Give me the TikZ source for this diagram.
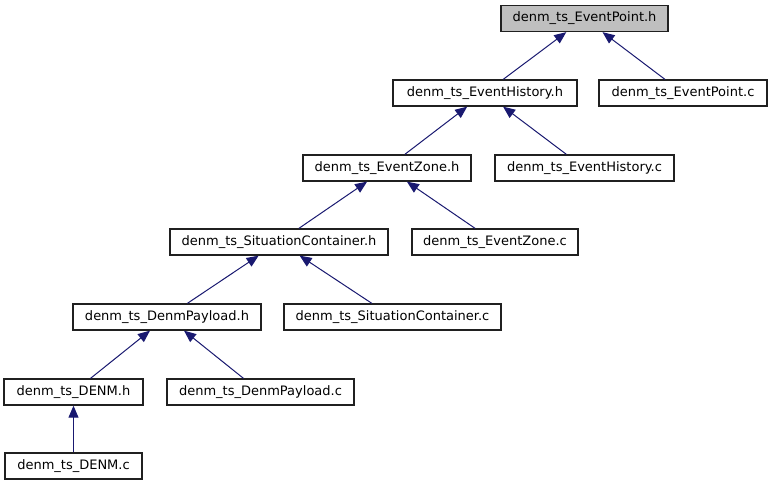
\documentclass[tikz,border=0pt]{standalone}
\usepackage{fontspec}
\setmainfont{DejaVu Sans}
\usetikzlibrary{arrows.meta}
\definecolor{edgeblue}{HTML}{191970}
\definecolor{boxline}{HTML}{202020}
\definecolor{boxgray}{HTML}{BFBFBF}
\begin{document}
\begin{tikzpicture}[x=1pt,y=-1pt,
  filebox/.style={draw=boxline,line width=1.3pt,fill=white,minimum height=26pt,inner sep=0pt,
    font=\fontsize{13}{15}\selectfont,text=black},
  edge/.style={draw=edgeblue,line width=1pt,-{Triangle[length=12pt,width=10pt]}}]
\useasboundingbox (0,0) rectangle (772,485);
\node[filebox,fill=boxgray,minimum width=167pt] (eph) at (584.5,18.5) {denm\_ts\_EventPoint.h};
\node[filebox,minimum width=184pt] (ehh) at (485,93) {denm\_ts\_EventHistory.h};
\node[filebox,minimum width=168pt] (epc) at (683,93) {denm\_ts\_EventPoint.c};
\node[filebox,minimum width=168pt] (ezh) at (387,168) {denm\_ts\_EventZone.h};
\node[filebox,minimum width=179pt] (ehc) at (584.5,168) {denm\_ts\_EventHistory.c};
\node[filebox,minimum width=218pt] (sch) at (279,242) {denm\_ts\_SituationContainer.h};
\node[filebox,minimum width=166pt] (ezc) at (495,242) {denm\_ts\_EventZone.c};
\node[filebox,minimum width=188pt] (dph) at (167,317) {denm\_ts\_DenmPayload.h};
\node[filebox,minimum width=217pt] (scc) at (392.5,317) {denm\_ts\_SituationContainer.c};
\node[filebox,minimum width=139pt] (dnh) at (73.5,392) {denm\_ts\_DENM.h};
\node[filebox,minimum width=187pt] (dpc) at (260.5,392) {denm\_ts\_DenmPayload.c};
\node[filebox,minimum width=137pt] (dnc) at (73.5,466) {denm\_ts\_DENM.c};
\draw[edge] (ehh) -- (eph);
\draw[edge] (epc) -- (eph);
\draw[edge] (ezh) -- (ehh);
\draw[edge] (ehc) -- (ehh);
\draw[edge] (sch) -- (ezh);
\draw[edge] (ezc) -- (ezh);
\draw[edge] (dph) -- (sch);
\draw[edge] (scc) -- (sch);
\draw[edge] (dnh) -- (dph);
\draw[edge] (dpc) -- (dph);
\draw[edge] (dnc) -- (dnh);
\end{tikzpicture}
\end{document}
